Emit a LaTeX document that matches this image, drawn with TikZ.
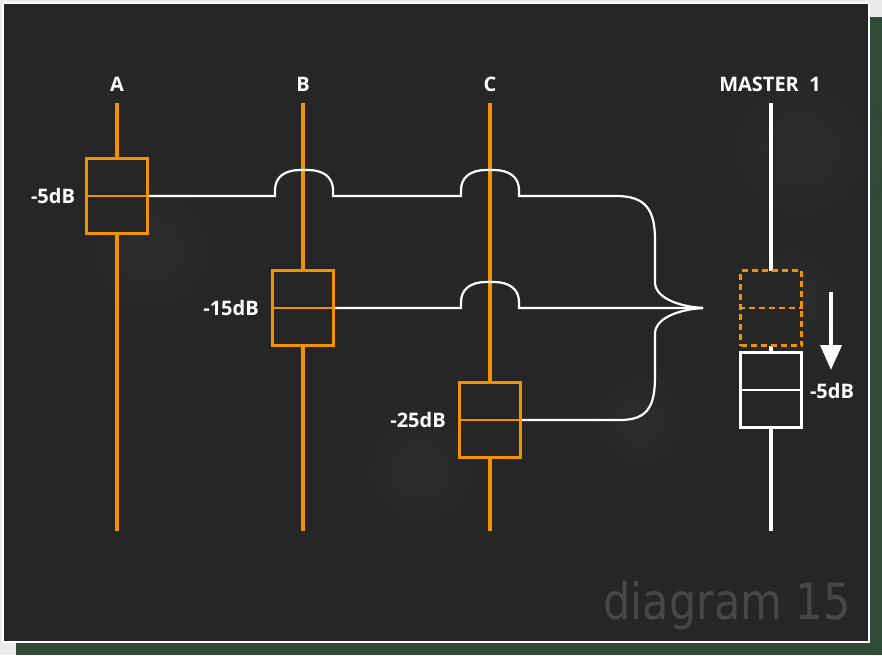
\documentclass[tikz,border=0pt]{standalone}
\usepackage{fontspec}
\setmainfont{Open Sans}
\newfontfamily\wmfont{DejaVu Sans}
\usetikzlibrary{arrows.meta,calc}
\definecolor{pagebg}{HTML}{E8EAEC}
\definecolor{shadowgreen}{HTML}{314B39}
\definecolor{panel}{HTML}{262626}
\definecolor{faderorange}{HTML}{F39200}
\definecolor{wmgray}{HTML}{474747}
\tikzset{
  track/.style={line width=4.5pt},
  fader/.style={rectangle, minimum width=61pt, minimum height=75pt, line width=2.5pt, fill=panel, inner sep=0pt},
  wire/.style={draw=white, line width=2.2pt},
  lbl/.style={text=white, font=\fontsize{20}{23}\selectfont\bfseries, inner sep=0pt},
}
% hop over a track: #1 = left x, #2 = base y
\newcommand{\hopover}[2]{%
  -- (#1,#2) -- (#1,#2-6) .. controls (#1,#2-19) and (#1+10,#2-26) .. (#1+25,#2-26)
  -- (#1+33,#2-26) .. controls (#1+48,#2-26) and (#1+58,#2-19) .. (#1+58,#2-6) -- (#1+58,#2)}
\begin{document}
\begin{tikzpicture}[x=1pt,y=-1pt]
\useasboundingbox (0,0) rectangle (882,655);
% page and panel
\fill[pagebg] (0,0) rectangle (882,655);
\fill[shadowgreen] (16,17) rectangle (882,655);
\fill[panel] (3,3) rectangle (869,642);
% faint texture patches
\foreach \cx/\cy/\r in {800/150/90, 790/300/70, 150/250/80, 420/470/70, 640/420/60} {
  \shade[inner color=white, outer color=panel, opacity=0.03] (\cx,\cy) circle (\r);
}
\draw[white, line width=2pt] (3,3) rectangle (869,642);
% watermark
\node[text=wmgray, inner sep=0pt] (wm) at (727,606) {\scalebox{0.86}[1]{\wmfont\fontsize{50}{55}\selectfont diagram 15}};
% channel tracks
\coordinate (atop) at (117,103); \coordinate (abot) at (117,531);
\coordinate (btop) at (303,103); \coordinate (bbot) at (303,531);
\coordinate (ctop) at (490,103); \coordinate (cbot) at (490,531);
\coordinate (mtop) at (771,103); \coordinate (mbot) at (771,531);
\draw[track, faderorange] (atop) -- (abot);
\draw[track, faderorange] (btop) -- (bbot);
\draw[track, faderorange] (ctop) -- (cbot);
\draw[line width=4pt, white] (mtop) -- (mbot);
% titles
\node[lbl] (la) at (117,84) {A};
\node[lbl] (lb) at (303,84) {B};
\node[lbl] (lc) at (490,84) {C};
\node[lbl] (lm) at (770,84) {MASTER\ \ 1};
% faders
\node[fader, draw=faderorange] (fa) at (117,196) {};
\draw[faderorange, line width=2.5pt] (fa.west) -- (fa.east);
\node[fader, draw=faderorange] (fb) at (303,308) {};
\draw[faderorange, line width=2.5pt] (fb.west) -- (fb.east);
\node[fader, draw=faderorange] (fc) at (490,420) {};
\draw[faderorange, line width=2.5pt] (fc.west) -- (fc.east);
\node[fader, draw=faderorange, dash pattern=on 6pt off 4pt] (fmold) at (771,308) {};
\draw[faderorange, line width=2.5pt, dash pattern=on 6pt off 4pt] (fmold.west) -- (fmold.east);
\node[fader, draw=white] (fm) at (771,390) {};
\draw[white, line width=2.5pt] (fm.west) -- (fm.east);
% level labels
\node[lbl] (da) at (53,196) {-5dB};
\node[lbl] (db) at (231,308) {-15dB};
\node[lbl] (dc) at (418,420) {-25dB};
\node[lbl] (dm) at (832,391) {-5dB};
% merge point
\coordinate (merge) at (703,308);
% wires
\draw[wire] (fa.east) \hopover{275}{196} \hopover{461}{196}
  -- (616,196) .. controls (646,196) and (655,210) .. (655,240)
  -- (655,283) .. controls (656,300) and (684,307) .. (merge);
\draw[wire] (fb.east) \hopover{461}{308} -- (merge);
\draw[wire] (fc.east) -- (620,420) .. controls (648,420) and (655,406) .. (655,376)
  -- (655,333) .. controls (656,316) and (684,309) .. (merge);
% move arrow
\coordinate (arrs) at (831,292);
\coordinate (arre) at (831,370);
\draw[white, line width=4pt, -{Triangle[width=21pt,length=25pt]}] (arrs) -- (arre);
\end{tikzpicture}
\end{document}
